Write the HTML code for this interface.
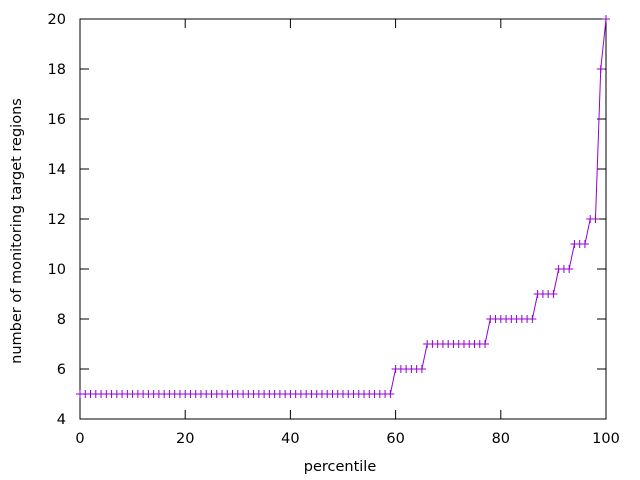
<!DOCTYPE html>
<html><head><meta charset="utf-8"><style>
html,body{margin:0;padding:0;background:#fff;}
svg{display:block;font-family:"DejaVu Sans",sans-serif;font-size:14.5px;}
</style></head><body>
<svg id="s" width="640" height="480" viewBox="0 0 640 480" xmlns="http://www.w3.org/2000/svg">
<rect x="80" y="19" width="526" height="400" fill="none" stroke="#000" stroke-width="1"/>
<g id="ticks" stroke="#000" stroke-width="1"></g>
<g id="labels" fill="#000"></g>
<text x="340" y="471" text-anchor="middle">percentile</text>
<text transform="translate(21,231) rotate(-90)" text-anchor="middle">number of monitoring target regions</text>
<path id="line" fill="none" stroke="#9400d3" stroke-width="1"/>
<path id="pts" fill="none" stroke="#9400d3" stroke-width="1"/>
</svg>
<script>
var X=function(p){return 80+p*5.26;},Y=function(v){return 419-(v-4)*25;};
var t="",l="";
for(var v=4;v<=20;v+=2){var y=Y(v);t+='<line x1="80" y1="'+y+'" x2="89" y2="'+y+'"/><line x1="606" y1="'+y+'" x2="597" y2="'+y+'"/>';
l+='<text x="66" y="'+(y+5)+'" text-anchor="end">'+v+'</text>';}
for(var p=0;p<=100;p+=20){var x=X(p);t+='<line x1="'+x+'" y1="419" x2="'+x+'" y2="410"/><line x1="'+x+'" y1="19" x2="'+x+'" y2="28"/>';
l+='<text x="'+x+'" y="443" text-anchor="middle">'+p+'</text>';}
document.getElementById("ticks").innerHTML=t;document.getElementById("labels").innerHTML=l;
function val(i){if(i<60)return 5;if(i<66)return 6;if(i<78)return 7;if(i<87)return 8;if(i<91)return 9;if(i<94)return 10;if(i<97)return 11;if(i<99)return 12;if(i<100)return 18;return 20;}
var d="",m="";
for(var i=0;i<=100;i++){var x=X(i),y=Y(val(i));d+=(i?"L":"M")+x+" "+y;m+="M"+(x-4)+" "+y+"h8M"+x+" "+(y-4)+"v8";}
document.getElementById("line").setAttribute("d",d);document.getElementById("pts").setAttribute("d",m);
</script>
</body></html>
